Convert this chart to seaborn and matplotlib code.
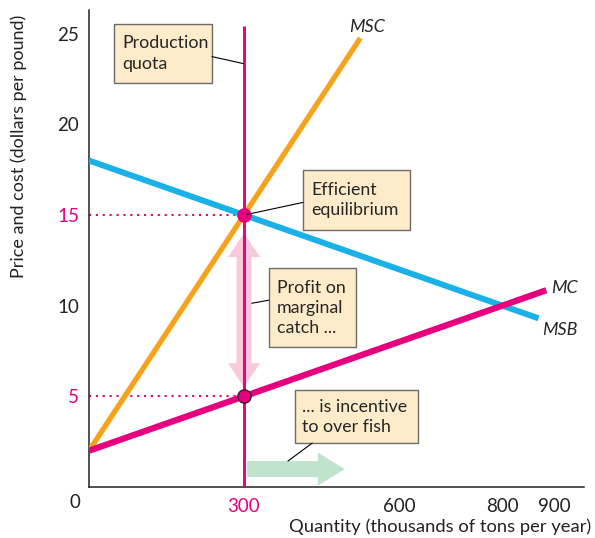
import matplotlib
matplotlib.use("Agg")
import matplotlib.pyplot as plt
import matplotlib.patches as mpatches
import seaborn as sns

# Curves, as end points (quantity: thousands of tons per year, price: dollars per pound)
msc_q = [0, 525]
msc_p = [2.0, 24.75]
msb_q = [0, 870]
msb_p = [18.0, 9.3]
mc_q = [0, 885]
mc_p = [2.0, 10.85]

# Production quota and the prices it produces
quota_q = 300
quota_top = 25.4
efficient_p = 15
mc_at_quota = 5

x_ticks = [300, 600, 800, 900]
x_tick_labels = ["300", "600", "800", "900"]
y_ticks = [5, 10, 15, 20, 25]
y_tick_labels = ["5", "10", "15", "20", "25"]

ORANGE = "#f7a21b"
BLUE = "#1ab0e8"
MAGENTA = "#e6007e"
PINK = "#f9c8db"
GREEN = "#c0e3cb"
BOX_FACE = "#fdebc9"
BOX_EDGE = "#6b6b6b"

sns.set_style("white")
plt.rcParams["font.family"] = ["Lato", "DejaVu Sans"]

fig = plt.figure(figsize=(5.95, 5.38), dpi=100)
ax = fig.add_axes([89 / 595, 51 / 538, 495 / 595, 477 / 538])
ax.set_xlim(0, 958)
ax.set_ylim(0, 26.3)

# pixel -> data scale helpers for arrow shapes
px_x = 958 / 495
px_y = 26.3 / 477

# Double-headed arrow: profit on the marginal catch
cx = quota_q
sw, hw, hl = 7.5 * px_x, 16 * px_x, 24 * px_y
top_tip = efficient_p - 1.0
bot_tip = mc_at_quota + 0.5
profit_arrow = mpatches.Polygon(
    [(cx, top_tip), (cx + hw, top_tip - hl), (cx + sw, top_tip - hl),
     (cx + sw, bot_tip + hl), (cx + hw, bot_tip + hl), (cx, bot_tip),
     (cx - hw, bot_tip + hl), (cx - sw, bot_tip + hl), (cx - sw, top_tip - hl),
     (cx - hw, top_tip - hl)],
    closed=True, facecolor=PINK, edgecolor="none", zorder=1)
ax.add_patch(profit_arrow)

# Horizontal arrow: incentive to over fish
gy = 0.99
g0, g1, gtip = 306, 443, 495
gsw, ghw = 8 * px_y, 16.5 * px_y
over_arrow = mpatches.Polygon(
    [(g0, gy - gsw), (g1, gy - gsw), (g1, gy - ghw), (gtip, gy),
     (g1, gy + ghw), (g1, gy + gsw), (g0, gy + gsw)],
    closed=True, facecolor=GREEN, edgecolor="none", zorder=1)
ax.add_patch(over_arrow)

# Curves
line_kw = dict(ax=ax, estimator=None, sort=False, solid_capstyle="butt")
sns.lineplot(x=msc_q, y=msc_p, color=ORANGE, lw=3.8, zorder=3, **line_kw)
sns.lineplot(x=msb_q, y=msb_p, color=BLUE, lw=4.3, zorder=3, **line_kw)
sns.lineplot(x=mc_q, y=mc_p, color=MAGENTA, lw=4.5, zorder=4, **line_kw)

# Quota line
ax.plot([quota_q, quota_q], [0, quota_top], color=MAGENTA, lw=2.1,
        zorder=5, solid_capstyle="butt")

# Dotted guides to the price axis
for p in (efficient_p, mc_at_quota):
    ax.plot([0, quota_q], [p, p], color=MAGENTA, lw=1.5,
            linestyle=(0, (1, 2.3)), zorder=2)

# Points
ax.plot([quota_q], [efficient_p], marker="o", ms=9.5, color=MAGENTA,
        mec=MAGENTA, zorder=6)
ax.plot([quota_q], [mc_at_quota], marker="o", ms=9.5, color=MAGENTA,
        mec="#3a1a2a", mew=1.0, zorder=6)

# Curve labels
ax.text(538, 25.35, "MSC", style="italic", fontsize=13, ha="center",
        va="center")
ax.text(895, 10.95, "MC", style="italic", fontsize=13, ha="left",
        va="center")
ax.text(877, 8.65, "MSB", style="italic", fontsize=13, ha="left",
        va="center")

# Callout boxes
def callout(x0, x1, y0, y1, tx, text, leader):
    ax.add_patch(mpatches.Rectangle((x0, y0), x1 - x0, y1 - y0,
                                    facecolor=BOX_FACE, edgecolor=BOX_EDGE,
                                    lw=1.0, zorder=7))
    ax.text(tx, (y0 + y1) / 2, text, ha="left", va="center", fontsize=12.8,
            linespacing=1.32, zorder=8)
    (lx0, ly0), (lx1, ly1) = leader
    ax.plot([lx0, lx1], [ly0, ly1], color="black", lw=0.8, zorder=7)

callout(48, 238, 22.25, 25.55, 64, "Production\nquota",
        ((238, 23.73), (298, 23.35)))
callout(414, 621, 14.15, 17.46, 430, "Efficient\nequilibrium",
        ((414, 15.69), (306, 15.03)))
callout(348, 517, 7.71, 12.06, 364, "Profit on\nmarginal\ncatch ...",
        ((348, 10.30), (315, 10.13)))
callout(399, 637, 2.42, 5.34, 412, "... is incentive\nto over fish",
        ((432, 2.42), (385, 1.43)))

# Axes
for side in ("top", "right"):
    ax.spines[side].set_visible(False)
for side in ("left", "bottom"):
    ax.spines[side].set_color("#222222")
    ax.spines[side].set_linewidth(1.1)

ax.set_xticks(x_ticks, x_tick_labels)
ax.set_yticks(y_ticks, y_tick_labels)
ax.tick_params(axis="both", direction="in", length=6, width=1.0,
               color="#222222", labelsize=13.5, labelcolor="#222222")
ax.tick_params(axis="x", pad=8)
ax.tick_params(axis="y", pad=7)

for lbl, tick in zip(ax.get_xticklabels(), ax.xaxis.get_major_ticks()):
    if lbl.get_text() == str(quota_q):
        lbl.set_color(MAGENTA)
        tick.tick1line.set_visible(False)
for lbl, tick in zip(ax.get_yticklabels(), ax.yaxis.get_major_ticks()):
    if lbl.get_text() in (str(efficient_p), str(mc_at_quota)):
        lbl.set_color(MAGENTA)
        tick.tick1line.set_visible(False)

ax.text(-27, -0.85, "0", fontsize=13.5, color="#222222", ha="center",
        va="center", clip_on=False)

ax.set_xlabel("Quantity (thousands of tons per year)", fontsize=13.2,
              color="#222222", ha="right")
ax.xaxis.set_label_coords(1 + 7 / 495, -31 / 477)
ax.set_ylabel("Price and cost (dollars per pound)", fontsize=13,
              color="#222222", va="center")
ax.yaxis.set_label_coords(-70 / 495, (487 - 146) / 477)

fig.savefig("out.png", dpi=100)
